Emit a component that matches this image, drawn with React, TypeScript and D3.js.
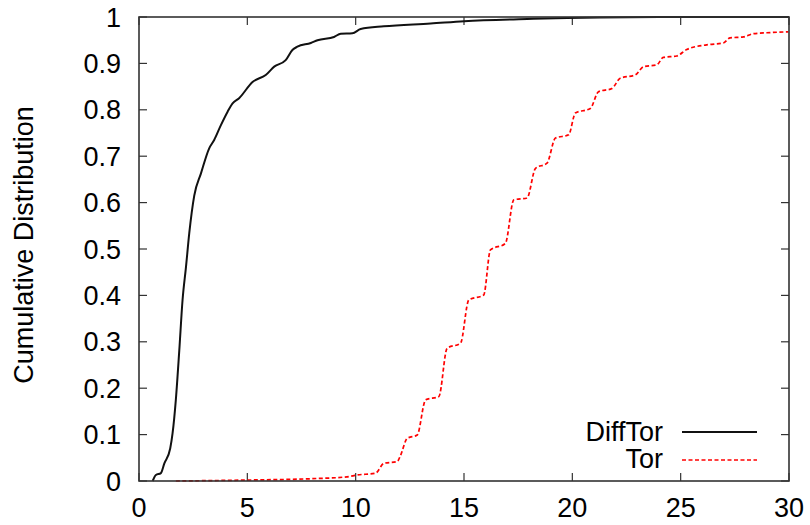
import React from "react";
import * as d3 from "d3";

const xTicks = [0, 5, 10, 15, 20, 25, 30];
const yTicks = [0, 0.1, 0.2, 0.3, 0.4, 0.5, 0.6, 0.7, 0.8, 0.9, 1];

const diffTorX = [0.63, 0.78, 1.01, 1.17, 1.44, 1.55, 1.7, 1.86, 2.01, 2.17, 2.32, 2.55, 2.86, 3.24, 3.47, 3.78, 4.09, 4.32, 4.62, 5.24, 5.85, 6.24, 6.77, 7.08, 7.31, 7.93, 8.24, 9.0, 9.31, 9.85, 10.23, 11.3, 13.46, 15, 18.2, 24, 30];
const diffTorY = [0, 0.013, 0.017, 0.038, 0.07, 0.103, 0.175, 0.282, 0.39, 0.462, 0.534, 0.615, 0.663, 0.717, 0.735, 0.767, 0.796, 0.814, 0.825, 0.86, 0.875, 0.893, 0.907, 0.929, 0.936, 0.944, 0.95, 0.957, 0.964, 0.965, 0.974, 0.98, 0.986, 0.991, 0.996, 1.0, 1.0];

const torX = [1.7, 5, 8, 9.6, 10.08, 10.92, 11.3, 11.92, 12.07, 12.38, 12.84, 13.23, 13.84, 14.22, 14.84, 15.22, 15.91, 16.22, 16.91, 17.3, 17.91, 18.3, 18.83, 19.22, 19.83, 20.14, 20.83, 21.21, 21.83, 22.21, 22.9, 23.29, 23.9, 24.2, 24.82, 25.28, 26.2, 26.97, 27.28, 27.9, 28.36, 28.97, 29.97];
const torY = [0, 0.002, 0.005, 0.009, 0.013, 0.017, 0.038, 0.042, 0.055, 0.092, 0.099, 0.175, 0.182, 0.286, 0.297, 0.39, 0.401, 0.498, 0.512, 0.606, 0.61, 0.674, 0.685, 0.739, 0.746, 0.793, 0.803, 0.839, 0.846, 0.868, 0.875, 0.893, 0.897, 0.913, 0.916, 0.93, 0.94, 0.944, 0.955, 0.957, 0.964, 0.966, 0.968];

const seriesNames = ["DiffTor", "Tor"];

const W = 810;
const H = 525;
const L = 139;
const R = 789;
const T = 17;
const B = 481;
const FONT = "'Liberation Sans', Arial, Helvetica, sans-serif";
const FS = 27;

export default function App() {
  const x = d3.scaleLinear().domain([0, 30]).range([L, R]);
  const y = d3.scaleLinear().domain([0, 1]).range([B, T]);
  const line = d3
    .line<[number, number]>()
    .x((d) => x(d[0]))
    .y((d) => y(d[1]))
    .curve(d3.curveMonotoneX);
  const diffPts = diffTorX.map((v, i) => [v, diffTorY[i]] as [number, number]);
  const torPts = torX.map((v, i) => [v, torY[i]] as [number, number]);
  const tickLen = 8;
  const axisColor = "#333";

  return (
    <svg
      width={W}
      height={H}
      style={{ position: "absolute", left: 0, top: 0, background: "#fff" }}
      fontFamily={FONT}
    >
      <rect x={0} y={0} width={W} height={H} fill="#fff" />
      {xTicks.map((t) => (
        <g key={"xt" + t}>
          <line x1={x(t)} x2={x(t)} y1={B} y2={B - tickLen} stroke={axisColor} strokeWidth={1.2} />
          <line x1={x(t)} x2={x(t)} y1={T} y2={T + tickLen} stroke={axisColor} strokeWidth={1.2} />
          <text x={x(t)} y={517} textAnchor="middle" fontSize={FS} fill="#000">
            {t}
          </text>
        </g>
      ))}
      {yTicks.map((t) => (
        <g key={"yt" + t}>
          <line x1={L} x2={L + tickLen} y1={y(t)} y2={y(t)} stroke={axisColor} strokeWidth={1.2} />
          <line x1={R} x2={R - tickLen} y1={y(t)} y2={y(t)} stroke={axisColor} strokeWidth={1.2} />
          <text x={121} y={y(t) + 9.5} textAnchor="end" fontSize={FS} fill="#000">
            {String(+t.toFixed(1))}
          </text>
        </g>
      ))}
      <path d={line(torPts) || ""} fill="none" stroke="#ff0000" strokeWidth={1.7} strokeDasharray="4,2.5" />
      <path d={line(diffPts) || ""} fill="none" stroke="#111" strokeWidth={2} />
      <rect x={L} y={T} width={R - L} height={B - T} fill="none" stroke={axisColor} strokeWidth={1.6} />
      <text transform={`translate(33,245) rotate(-90)`} textAnchor="middle" fontSize={FS} fill="#000">
        Cumulative Distribution
      </text>
      <text x={663} y={441} textAnchor="end" fontSize={FS} fill="#000">
        {seriesNames[0]}
      </text>
      <line x1={682} x2={757} y1={432} y2={432} stroke="#111" strokeWidth={2} />
      <text x={663} y={468} textAnchor="end" fontSize={FS} fill="#000">
        {seriesNames[1]}
      </text>
      <line x1={682} x2={757} y1={460} y2={460} stroke="#ff0000" strokeWidth={1.7} strokeDasharray="4,2.5" />
    </svg>
  );
}
